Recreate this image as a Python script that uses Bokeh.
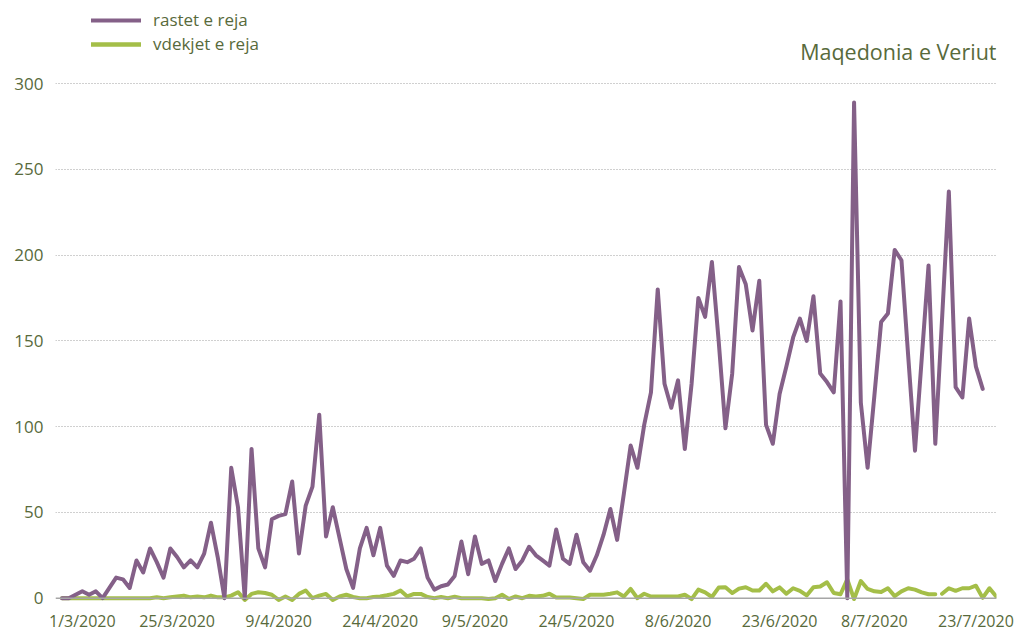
from bokeh.plotting import figure
from bokeh.models import Range1d, FixedTicker, Span, Legend, LegendItem, Label
from bokeh.embed import file_html
from bokeh.resources import INLINE

# ---------------- data ----------------
new_cases = [0, 0, 2, 4, 2, 4, 0, 6, 12, 11,
             6, 22, 15, 29, 21, 12, 29, 24, 18, 22,
             18, 26, 44, 24, 0, 76, 53, 0, 87, 29,
             18, 46, 48, 49, 68, 26, 54, 65, 107, 36,
             53, 35, 17, 6, 29, 41, 25, 41, 19, 13,
             22, 21, 23, 29, 12, 5, 7, 8, 13, 33,
             14, 36, 20, 22, 10, 20, 29, 17, 22, 30,
             25, 22, 19, 40, 23, 20, 37, 21, 16, 25,
             37, 52, 34, 61, 89, 76, 101, 120, 180, 125,
             111, 127, 87, 125, 175, 164, 196, 150, 99, 131,
             193, 183, 156, 185, 101, 90, 119, 135, 152, 163,
             150, 176, 131, 126, 120, 173, 0, 289, 114, 76,
             118, 161, 166, 203, 197, 141, 86, 140, 194, 90,
             163, 237, 123, 117, 163, 135, 122]

new_deaths = [0, 0, 0, 0, 0, 0, 0, 0, 0, 0,
              0, 0, 0, 0, 0.5, 0, 0.5, 1, 1.5, 0.5,
              1, 0.5, 1.5, 0.5, 0.5, 1.5, 3.5, -1, 2.5, 3.5,
              3, 2, -1, 1, -1, 2.5, 4.5, 0, 1.5, 2.5,
              -1, 1, 2, 0.7, 0, 0, 0.7, 1, 1.7, 2.5,
              4.5, 1, 2.5, 2.5, 0.7, 0, 0.7, 0, 0.8, 0,
              0, 0, 0, -0.5, 0, 2, -0.5, 1, 0, 1.4,
              1, 1.4, 2.6, 0.4, 0.4, 0.4, 0, -0.5, 2, 2,
              2, 2.6, 3.4, 1, 5.4, 0, 2.6, 1, 1, 1,
              1, 1, 2, -0.5, 5, 3.4, 0.7, 6.2, 6.4, 3,
              5.6, 6.4, 4.5, 4.5, 8.4, 4, 6.3, 2.6, 5.8, 4.3,
              1.6, 6.4, 6.8, 9.3, 3, 2.3, 11, -0.5, 10, 5.4,
              4, 3.6, 5.8, 1.2, 4, 5.8, 5, 3.4, 2.3, 2.3,
              2.6, 5.8, 4.3, 5.8, 5.8, 7.3, 0.2, 5.8, 1]
deaths_line_break_after = 129   # the deaths line is not joined between these two days

tick_labels = ["1/3/2020", "25/3/2020", "9/4/2020", "24/4/2020", "9/5/2020",
               "24/5/2020", "8/6/2020", "23/6/2020", "8/7/2020", "23/7/2020"]
tick_index = [3, 17, 32, 47, 61, 76, 91, 106, 120, 135]
y_ticks = [0, 50, 100, 150, 200, 250, 300]

series_names = ["rastet e reja", "vdekjet e reja"]
chart_title = "Maqedonia e Veriut"

# ---------------- styling ----------------
PURPLE = "#846088"
GREEN = "#a4be48"
TEXT = "#586a3b"
FONT = "Open Sans"

case_idx = list(range(len(new_cases)))
death_idx = list(range(len(new_deaths)))
b = deaths_line_break_after + 1

p = figure(width=1016, height=634, output_backend="svg", toolbar_location=None,
           x_range=Range1d(-0.96, 138.04), y_range=Range1d(-4.84, 348.4),
           min_border_left=55, min_border_right=20, min_border_top=0,
           min_border_bottom=28)
p.outline_line_color = None
p.background_fill_color = "white"
p.border_fill_color = "white"

p.xgrid.visible = False
p.ygrid.ticker = FixedTicker(ticks=y_ticks[1:])
p.ygrid.grid_line_color = "#a0a0a0"
p.ygrid.grid_line_dash = "1 2"
p.ygrid.grid_line_width = 1

p.yaxis.ticker = FixedTicker(ticks=y_ticks)
p.xaxis.ticker = FixedTicker(ticks=tick_index)
p.xaxis.major_label_overrides = {i: s for i, s in zip(tick_index, tick_labels)}
for ax in (p.xaxis[0], p.yaxis[0]):
    ax.axis_line_color = None
    ax.major_tick_line_color = None
    ax.minor_tick_line_color = None
    ax.major_tick_out = 0
    ax.major_tick_in = 0
    ax.minor_tick_out = 0
    ax.minor_tick_in = 0
    ax.major_label_text_font = FONT
    ax.major_label_text_color = TEXT
p.xaxis.major_label_text_font_size = "16px"
p.yaxis.major_label_text_font_size = "17px"
p.yaxis.major_label_standoff = 12
p.xaxis.major_label_standoff = 3

p.add_layout(Span(location=0, dimension="width", line_color="#a6a6a6", line_width=1.5))

line_style = dict(line_width=4, line_join="round", line_cap="round")
r_deaths_a = p.line(death_idx[:b], new_deaths[:b], line_color=GREEN, **line_style)
r_deaths_b = p.line(death_idx[b:], new_deaths[b:], line_color=GREEN, **line_style)
r_cases = p.line(case_idx, new_cases, line_color=PURPLE, **line_style)

legend = Legend(items=[LegendItem(label=series_names[0], renderers=[r_cases]),
                       LegendItem(label=series_names[1], renderers=[r_deaths_a, r_deaths_b])],
                location=(36, 551), glyph_width=50, glyph_height=20, label_height=20,
                label_standoff=12, spacing=1, padding=0, margin=0,
                border_line_color=None, background_fill_alpha=0,
                label_text_font=FONT, label_text_font_size="17px",
                label_text_color=TEXT)
p.add_layout(legend)

p.add_layout(Label(x=941, y=555, x_units="screen", y_units="screen", text=chart_title,
                   text_align="right", text_baseline="alphabetic", text_font=FONT,
                   text_font_size="21.5px", text_color=TEXT))

open("out.html", "w").write(file_html(p, INLINE))
